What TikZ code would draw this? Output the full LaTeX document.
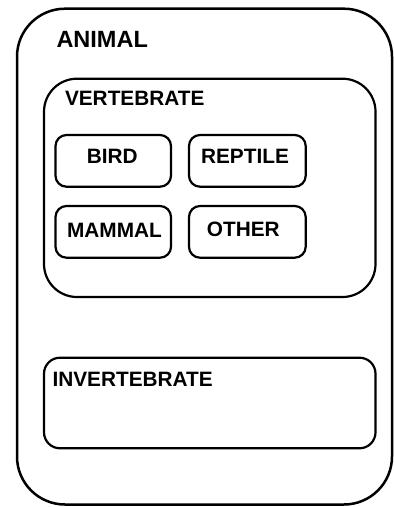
\documentclass[tikz,border=0pt]{standalone}
\usepackage{fontspec}
\setmainfont{Liberation Sans}
\begin{document}
\begin{tikzpicture}[x=1pt,y=-1pt,
  box/.style={draw=black, rectangle, inner sep=0pt, outer sep=0pt, line width=2.2pt},
  outerbox/.style={box, line width=2.5pt, rounded corners=48pt},
  groupbox/.style={box, rounded corners=33pt},
  flatbox/.style={box, rounded corners=16pt},
  leafbox/.style={box, rounded corners=11pt, minimum width=115.5pt, minimum height=51.7pt},
  lbl/.style={inner sep=0pt, outer sep=0pt, font=\bfseries\fontsize{20.8}{24}\selectfont},
  title/.style={lbl, font=\bfseries\fontsize{23.5}{28}\selectfont}]
  \useasboundingbox (0,0) rectangle (394,507);

  % containers
  \node[outerbox, minimum width=375pt, minimum height=495.8pt] (animal) at (204.5,256.6) {};
  \node[groupbox, minimum width=331.5pt, minimum height=218.3pt] (vert) at (209.75,187.85) {};
  \node[flatbox, minimum width=331.5pt, minimum height=90.6pt] (invert) at (209.75,403) {};

  % members of the vertebrate group
  \node[leafbox] (bird) at (113.25,160.85) {};
  \node[leafbox, minimum width=116.7pt] (reptile) at (247.35,160.85) {};
  \node[leafbox] (mammal) at (113.25,231.85) {};
  \node[leafbox, minimum width=116.7pt] (other) at (247.35,231.85) {};

  % labels
  \node[title, anchor=base west] (tanimal) at (56.5,47.3) {ANIMAL};
  \node[lbl, anchor=base west] (tvert) at (65,105) {VERTEBRATE};
  \node[lbl, anchor=base west] (tinvert) at (52.5,386) {INVERTEBRATE};
  \node[lbl, anchor=base] (tbird) at (112.3,163.3) {BIRD};
  \node[lbl, anchor=base] (treptile) at (245,163.3) {REPTILE};
  \node[lbl, anchor=base] (tmammal) at (114.5,237.3) {MAMMAL};
  \node[lbl, anchor=base] (tother) at (243.3,236) {OTHER};
\end{tikzpicture}
\end{document}
